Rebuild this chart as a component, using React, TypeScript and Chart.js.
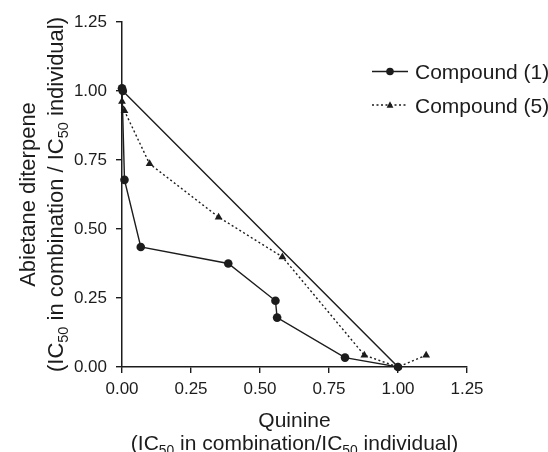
import React, { useEffect, useRef } from 'react';
import { Chart, registerables } from 'chart.js';

Chart.register(...registerables);

// ---- data ----
const compound1X = [0.0, 0.009, 0.068, 0.385, 0.556, 0.562, 0.808, 1.0, 0.003];
const compound1Y = [1.01, 0.678, 0.435, 0.375, 0.24, 0.179, 0.034, 0.0, 1.0];
const compound5X = [0.0, 0.009, 0.1, 0.35, 0.581, 0.878, 1.0, 1.102];
const compound5Y = [0.962, 0.928, 0.736, 0.543, 0.399, 0.043, 0.0, 0.043];
const tickValues = [0, 0.25, 0.5, 0.75, 1.0, 1.25];
const seriesLabels = ['Compound (1)', 'Compound (5)'];

type Seg = [string, boolean];
const xTitleLines: Seg[][] = [
  [['Quinine', false]],
  [['(IC', false], ['50', true], [' in combination/IC', false], ['50', true], [' individual)', false]],
];
const yTitleLines: Seg[][] = [
  [['Abietane diterpene', false]],
  [['(IC', false], ['50', true], [' in combination / IC', false], ['50', true], [' individual)', false]],
];

const FONT = '"Liberation Sans", Arial, Helvetica, sans-serif';
const INK = '#1c1c1c';

function drawRich(ctx: CanvasRenderingContext2D, segs: Seg[], x: number, y: number, size: number) {
  const subSize = size * 0.66;
  let total = 0;
  const widths = segs.map(([t, sub]) => {
    ctx.font = `${sub ? subSize : size}px ${FONT}`;
    const w = ctx.measureText(t).width;
    total += w;
    return w;
  });
  let cx = x - total / 2;
  ctx.textAlign = 'left';
  ctx.textBaseline = 'alphabetic';
  segs.forEach(([t, sub], i) => {
    ctx.font = `${sub ? subSize : size}px ${FONT}`;
    ctx.fillText(t, cx, sub ? y + size * 0.24 : y);
    cx += widths[i];
  });
}

const decorPlugin = {
  id: 'decor',
  afterDraw(chart: any) {
    const ctx: CanvasRenderingContext2D = chart.ctx;
    const area = chart.chartArea;
    ctx.save();
    ctx.fillStyle = INK;
    // x title
    const cxm = (area.left + area.right) / 2;
    drawRich(ctx, xTitleLines[0], cxm, 427, 21);
    drawRich(ctx, xTitleLines[1], cxm, 450, 21);
    // y title
    const cym = (area.top + area.bottom) / 2;
    ctx.save();
    ctx.translate(35, cym);
    ctx.rotate(-Math.PI / 2);
    drawRich(ctx, yTitleLines[0], 0, 0, 22);
    ctx.restore();
    ctx.save();
    ctx.translate(63, cym);
    ctx.rotate(-Math.PI / 2);
    drawRich(ctx, yTitleLines[1], 0, 0, 22);
    ctx.restore();

    // legend
    const rows = [71.5, 105];
    chart.data.datasets.forEach((ds: any, i: number) => {
      const y = rows[i];
      ctx.save();
      ctx.strokeStyle = INK;
      ctx.lineWidth = 1.4;
      ctx.setLineDash(ds.borderDash || []);
      ctx.beginPath();
      ctx.moveTo(372, y);
      ctx.lineTo(408, y);
      ctx.stroke();
      ctx.setLineDash([]);
      ctx.fillStyle = INK;
      ctx.beginPath();
      if (ds.pointStyle === 'triangle') {
        const r = 3.4;
        ctx.moveTo(390, y - r * 1.1);
        ctx.lineTo(390 + r, y + r * 0.8);
        ctx.lineTo(390 - r, y + r * 0.8);
        ctx.closePath();
      } else {
        ctx.arc(390, y, 3.8, 0, Math.PI * 2);
      }
      ctx.fill();
      ctx.font = `21px ${FONT}`;
      ctx.textAlign = 'left';
      ctx.textBaseline = 'alphabetic';
      ctx.fillText(ds.label, 415, y + 7.5);
      ctx.restore();
    });
    ctx.restore();
  },
};

export default function App() {
  const ref = useRef<HTMLCanvasElement | null>(null);
  useEffect(() => {
    if (!ref.current) return;
    const axisCommon = {
      type: 'linear' as const,
      min: 0,
      max: 1.25,
      border: { display: true, color: INK, width: 1.5 },
      grid: { display: true, drawOnChartArea: false, drawTicks: true, tickLength: 6, color: INK, lineWidth: 1.4 },
    };
    const chart = new Chart(ref.current, {
      type: 'scatter',
      data: {
        datasets: [
          {
            label: seriesLabels[0],
            data: compound1X.map((x, i) => ({ x, y: compound1Y[i] })),
            showLine: true,
            borderColor: INK,
            backgroundColor: INK,
            borderWidth: 1.4,
            pointStyle: 'circle',
            pointRadius: 4.3,
            pointBorderWidth: 0,
            clip: false,
          } as any,
          {
            label: seriesLabels[1],
            data: compound5X.map((x, i) => ({ x, y: compound5Y[i] })),
            showLine: true,
            borderColor: INK,
            backgroundColor: INK,
            borderWidth: 1.4,
            borderDash: [2, 2.5],
            pointStyle: 'triangle',
            pointRadius: 4.5,
            pointBorderWidth: 0,
            clip: false,
          } as any,
        ],
      },
      options: {
        responsive: false,
        animation: false,
        layout: { padding: { top: 22, right: 81, left: 0, bottom: 0 } },
        plugins: { legend: { display: false }, tooltip: { enabled: false } },
        scales: {
          x: {
            ...axisCommon,
            afterFit: (s: any) => { s.height = 85; },
            afterBuildTicks: (s: any) => { s.ticks = tickValues.map((v) => ({ value: v })); },
            ticks: {
              color: INK,
              font: { family: FONT, size: 17 },
              padding: 6,
              maxRotation: 0,
              callback: (v: any) => Number(v).toFixed(2),
            },
          },
          y: {
            ...axisCommon,
            afterFit: (s: any) => { s.width = 122; },
            afterBuildTicks: (s: any) => { s.ticks = tickValues.map((v) => ({ value: v })); },
            ticks: {
              color: INK,
              font: { family: FONT, size: 17 },
              padding: 9,
              callback: (v: any) => Number(v).toFixed(2),
            },
          },
        },
      } as any,
      plugins: [decorPlugin],
    });
    return () => chart.destroy();
  }, []);
  return (
    <div style={{ position: 'absolute', left: 0, top: 0, width: 548, height: 452, background: '#fff' }}>
      <canvas ref={ref} width={548} height={452} />
    </div>
  );
}
